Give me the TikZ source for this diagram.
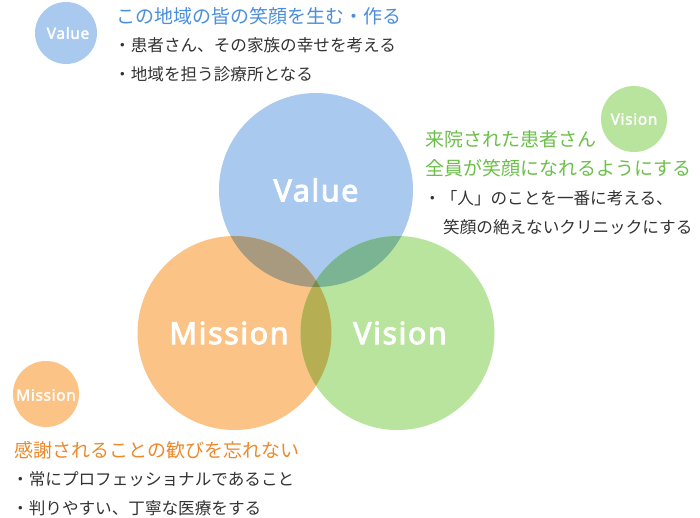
\documentclass[tikz,border=0pt]{standalone}
\usepackage{fontspec}
\setmainfont{Noto Sans CJK JP}
\newfontfamily\jp{Noto Sans CJK JP}
\newfontfamily\lab[LetterSpace=5,FakeBold=3]{Noto Sans}
\newfontfamily\slab[LetterSpace=4,FakeBold=2]{Noto Sans}
\definecolor{cBlue}{HTML}{A9C9EF}
\definecolor{cOrange}{HTML}{FCC386}
\definecolor{cGreen}{HTML}{B8E49D}
\definecolor{cVM}{HTML}{A79A7E}
\definecolor{cVV}{HTML}{7AB493}
\definecolor{cMV}{HTML}{B6AE52}
\definecolor{cAll}{HTML}{798A4D}
\definecolor{tBlue}{HTML}{4A8FDC}
\definecolor{tGreen}{HTML}{6CC04A}
\definecolor{tOrange}{HTML}{EC8A2C}
\definecolor{tBody}{HTML}{333333}
\tikzset{
  ttl/.style={anchor=west, inner sep=0pt, font=\jp\fontsize{19}{21}\selectfont},
  body/.style={anchor=west, inner sep=0pt, text=tBody, font=\jp\fontsize{16.6}{19}\selectfont},
  biglab/.style={text=white, inner sep=0pt, font=\lab\fontsize{30.5}{33}\selectfont},
  smalllab/.style={text=white, inner sep=0pt, font=\slab\fontsize{15.5}{17}\selectfont},
}
\begin{document}
\begin{tikzpicture}[x=1pt,y=-1pt]
\fill[white] (0,0) rectangle (700,518);
\useasboundingbox (0,0) rectangle (700,518);
% big circles
\def\cV{(316,190) circle (97)}
\def\cM{(234.5,333) circle (97)}
\def\cS{(397.5,333) circle (97)}
\fill[cBlue] \cV;
\fill[cOrange] \cM;
\fill[cGreen] \cS;
\begin{scope}\clip \cV; \fill[cVM] \cM; \end{scope}
\begin{scope}\clip \cV; \fill[cVV] \cS; \end{scope}
\begin{scope}\clip \cM; \fill[cMV] \cS; \end{scope}
\begin{scope}\clip \cV; \clip \cM; \fill[cAll] \cS; \end{scope}
\node[biglab] (lv) at (316,190) {Value};
\node[biglab] (lm) at (229,333) {Mission};
\node[biglab] (ls) at (400,333) {Vision};
% small circles
\fill[cBlue] (66,33) circle (31);
\node[smalllab] (sv) at (68,33) {Value};
\fill[cGreen] (634,119) circle (33);
\node[smalllab] (ss) at (634,119) {Vision};
\fill[cOrange] (46,394) circle (33);
\node[smalllab] (sm) at (46,395) {Mission};
% Value texts
\node[ttl, text=tBlue] (vt) at (116,16) {この地域の皆の笑顔を生む・作る};
\node[body] (v1) at (114,45) {・患者さん、その家族の幸せを考える};
\node[body] (v2) at (114,74) {・地域を担う診療所となる};
% Vision texts
\node[ttl, text=tGreen] (st1) at (425,139) {来院された患者さん};
\node[ttl, text=tGreen] (st2) at (425,168) {全員が笑顔になれるようにする};
\node[body] (s1) at (424,198) {・「人」のことを一番に考える、};
\node[body] (s2) at (443,227) {笑顔の絶えないクリニックにする};
% Mission texts
\node[ttl, text=tOrange] (mt) at (14,450) {感謝されることの歓びを忘れない};
\node[body] (m1) at (12,479) {・常にプロフェッショナルであること};
\node[body] (m2) at (12,508) {・判りやすい、丁寧な医療をする};
\end{tikzpicture}
\end{document}
